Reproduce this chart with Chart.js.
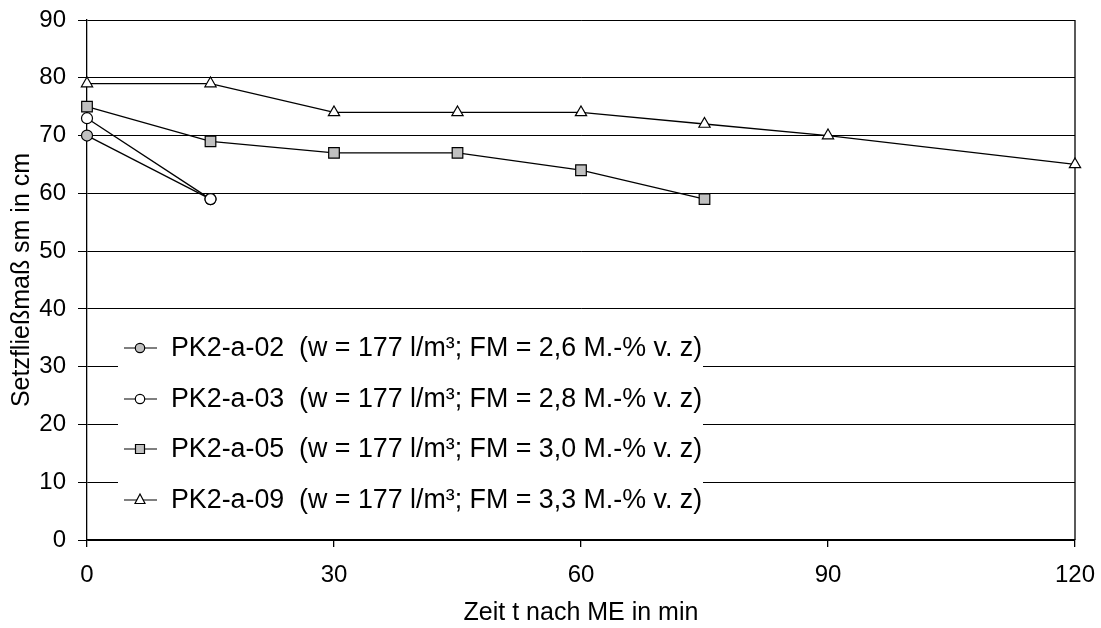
<!DOCTYPE html>
<html>
<head>
<meta charset="utf-8">
<script src="https://cdn.jsdelivr.net/npm/chart.js@4"></script>
<style>
  html, body { margin: 0; padding: 0; background: #fff; }
  #wrap { width: 1101px; height: 628px; }
</style>
</head>
<body>
<div id="wrap"><canvas id="chart" width="1101" height="628"></canvas></div>
<script>
// values
const labels = ['PK2-a-02  (w = 177 l/m³; FM = 2,6 M.-% v. z)', 'PK2-a-03  (w = 177 l/m³; FM = 2,8 M.-% v. z)',
                'PK2-a-05  (w = 177 l/m³; FM = 3,0 M.-% v. z)', 'PK2-a-09  (w = 177 l/m³; FM = 3,3 M.-% v. z)'];
const time02 = [0, 15];
const sm02 = [70, 59];
const time03 = [0, 15];
const sm03 = [73, 59];
const time05 = [0, 15, 30, 45, 60, 75];
const sm05 = [75, 69, 67, 67, 64, 59];
const time09 = [0, 15, 30, 45, 60, 75, 90, 120];
const sm09 = [79, 79, 74, 74, 74, 72, 70, 65];
const xTicks = [0, 30, 60, 90, 120];

const pts = (xs, ys) => xs.map((x, i) => ({ x: x, y: ys[i] }));
const FONT = '"Liberation Sans", Arial, sans-serif';

const styles = [
    { style: 'circle', fill: '#c0c0c0', r: 5.5 },
    { style: 'circle', fill: '#ffffff', r: 5.5 },
    { style: 'rect', fill: '#c0c0c0', r: 7.5 },
    { style: 'triangle', fill: '#ffffff', r: 6.5 }
];
const series = [pts(time02, sm02), pts(time03, sm03), pts(time05, sm05), pts(time09, sm09)];

const datasets = series.map((d, i) => ({
    label: labels[i],
    data: d,
    borderColor: '#000',
    borderWidth: 1.3,
    pointStyle: styles[i].style,
    pointRadius: styles[i].r,
    pointBackgroundColor: styles[i].fill,
    pointBorderColor: '#000',
    pointBorderWidth: 1.2,
    clip: false,
    tension: 0,
    order: 4 - i
}));

// right frame line + legend inside the plot on a white box
const boxLegend = {
    id: 'boxLegend',
    beforeDatasetsDraw(chart) {
        const a = chart.chartArea, ctx = chart.ctx;
        ctx.save();
        ctx.strokeStyle = '#000';
        ctx.lineWidth = 1.3;
        ctx.beginPath();
        ctx.moveTo(a.right, a.top);
        ctx.lineTo(a.right, a.bottom);
        ctx.stroke();
        ctx.restore();
    },
    afterDatasetsDraw(chart) {
        const ctx = chart.ctx;
        ctx.save();
        ctx.fillStyle = '#fff';
        ctx.fillRect(118, 326, 585, 196);
        ctx.font = '26.8px ' + FONT;
        ctx.textBaseline = 'middle';
        const ys = [348, 399, 449, 500];
        chart.data.datasets.forEach((ds, i) => {
            const y = ys[i];
            ctx.strokeStyle = '#000';
            ctx.lineWidth = 1.2;
            ctx.beginPath();
            ctx.moveTo(124, y);
            ctx.lineTo(157, y);
            ctx.stroke();
            ctx.fillStyle = styles[i].fill;
            const s = styles[i].style;
            ctx.beginPath();
            if (s === 'circle') ctx.arc(140, y, 4.7, 0, Math.PI * 2);
            else if (s === 'rect') ctx.rect(135.5, y - 4.5, 9, 9);
            else { ctx.moveTo(140, y - 6); ctx.lineTo(145, y + 3.5); ctx.lineTo(135, y + 3.5); ctx.closePath(); }
            ctx.fill();
            ctx.stroke();
            ctx.fillStyle = '#000';
            ctx.fillText(ds.label, 171, y + 1);
        });
        ctx.restore();
    }
};

new Chart(document.getElementById('chart'), {
    type: 'line',
    data: { datasets: datasets },
    plugins: [boxLegend],
    options: {
        responsive: false,
        animation: false,
        layout: { padding: { top: 20, right: 26, left: 0, bottom: 0 } },
        plugins: { legend: { display: false }, tooltip: { enabled: false } },
        scales: {
            x: {
                type: 'linear',
                min: 0, max: 120,
                afterBuildTicks: s => { s.ticks = xTicks.map(v => ({ value: v })); },
                afterFit: s => { s.height = 88; s.paddingLeft = 0; s.paddingRight = 0; },
                grid: { drawOnChartArea: false, drawTicks: true, tickLength: 7, color: '#000', lineWidth: 1.3 },
                border: { color: '#000', width: 1.3 },
                ticks: { color: '#000', font: { family: FONT, size: 24 }, padding: 14, maxRotation: 0 },
                title: { display: true, text: 'Zeit t nach ME in min', color: '#000', font: { family: FONT, size: 25 }, padding: { top: 0, bottom: 0 } }
            },
            y: {
                min: 0, max: 90,
                afterFit: s => { s.width = 87; s.paddingTop = 0; s.paddingBottom = 0; },
                grid: { color: '#000', lineWidth: 1, tickLength: 9 },
                border: { color: '#000', width: 1.3 },
                ticks: { stepSize: 10, color: '#000', font: { family: FONT, size: 24 }, padding: 12 },
                title: { display: true, text: 'Setzfließmaß sm in cm', color: '#000', font: { family: FONT, size: 25 }, padding: { top: 7, bottom: 0 } }
            }
        }
    }
});
</script>
</body>
</html>
